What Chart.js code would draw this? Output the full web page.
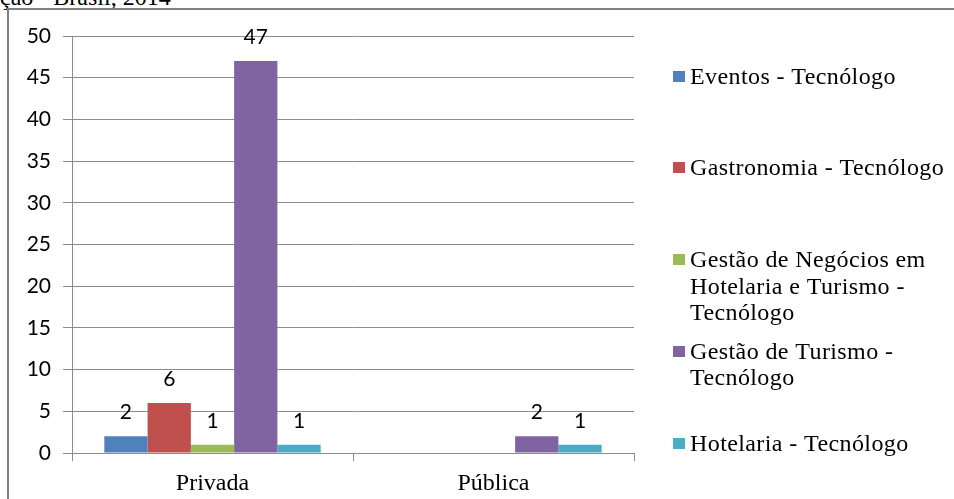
<!DOCTYPE html>
<html>
<head>
<meta charset="utf-8">
<script src="https://cdn.jsdelivr.net/npm/chart.js@4/dist/chart.umd.min.js"></script>
<style>
  html, body { margin: 0; padding: 0; background: #fff; }
  body { width: 954px; height: 499px; position: relative; overflow: hidden; }
  #caption { position: absolute; left: 0; top: -15px; font: 24px "Liberation Serif", "Times New Roman", serif; line-height: 24px; color: #000; white-space: nowrap; }
  #frame { position: absolute; left: 7px; top: 8px; width: 1000px; height: 600px; border: 2px solid #808080; box-sizing: border-box; }
  #wrap { position: absolute; left: 0; top: 0; width: 954px; height: 499px; }
</style>
</head>
<body>
<div id="caption">ção - Brasil, 2014</div>
<div id="frame"></div>
<div id="wrap"><canvas id="c" width="954" height="499"></canvas></div>
<script>
// ---- data ----
const categories = ['Privada', 'Pública'];
const seriesNames = [
  'Eventos - Tecnólogo',
  'Gastronomia - Tecnólogo',
  'Gestão de Negócios em Hotelaria e Turismo - Tecnólogo',
  'Gestão de Turismo - Tecnólogo',
  'Hotelaria - Tecnólogo'
];
const legendLines = [
  ['Eventos - Tecnólogo'],
  ['Gastronomia - Tecnólogo'],
  ['Gestão de Negócios em', 'Hotelaria e Turismo -', 'Tecnólogo'],
  ['Gestão de Turismo -', 'Tecnólogo'],
  ['Hotelaria - Tecnólogo']
];
const eventos = [2, null];
const gastronomia = [6, null];
const gestaoNegocios = [1, null];
const gestaoTurismo = [47, 2];
const hotelaria = [1, 1];
const yMin = 0, yMax = 50, yStep = 5;

const seriesValues = [eventos, gastronomia, gestaoNegocios, gestaoTurismo, hotelaria];
const seriesColors = ['#4F81BD', '#C0504D', '#9BBB59', '#8064A2', '#4BACC6'];

const gridColor = '#8c8c8c';

const dataLabelPlugin = {
  id: 'dataLabels',
  afterDatasetsDraw(chart) {
    const ctx = chart.ctx;
    ctx.save();
    ctx.font = '21px Lato, "Liberation Sans", sans-serif';
    ctx.fillStyle = '#000';
    ctx.textAlign = 'center';
    ctx.textBaseline = 'alphabetic';
    chart.data.datasets.forEach((ds, i) => {
      const meta = chart.getDatasetMeta(i);
      meta.data.forEach((el, j) => {
        const v = ds.data[j];
        if (v === null || v === undefined) return;
        ctx.fillText(String(v), el.x, el.y - 17);
      });
    });
    ctx.restore();
  }
};

const sideLegendPlugin = {
  id: 'sideLegend',
  afterDraw(chart) {
    const ctx = chart.ctx;
    ctx.save();
    ctx.font = '24px "Liberation Serif", "Times New Roman", serif';
    try { ctx.letterSpacing = '0.4px'; } catch (e) {}
    ctx.textAlign = 'left';
    ctx.textBaseline = 'alphabetic';
    const boxX = 673, textX = 690, firstY = 76, step = 91.8, lineH = 26.5;
    chart.data.datasets.forEach((ds, i) => {
      const cy = firstY + i * step;
      ctx.fillStyle = ds.backgroundColor;
      ctx.fillRect(boxX, Math.round(cy - 5.5), 12, 11);
      ctx.fillStyle = '#000';
      legendLines[i].forEach((line, k) => {
        ctx.fillText(line, textX, cy + 7.5 + k * lineH);
      });
    });
    ctx.restore();
  }
};

new Chart(document.getElementById('c'), {
  type: 'bar',
  data: {
    labels: categories,
    datasets: seriesNames.map((name, i) => ({
      label: name,
      data: seriesValues[i],
      backgroundColor: seriesColors[i],
      borderWidth: 0,
      categoryPercentage: 0.77,
      barPercentage: 1.0
    }))
  },
  options: {
    responsive: false,
    animation: false,
    events: [],
    layout: { padding: { left: 8, top: 36, right: 320, bottom: 0 } },
    plugins: {
      legend: { display: false },
      tooltip: { enabled: false },
      title: { display: false }
    },
    scales: {
      x: {
        grid: { display: true, drawOnChartArea: false, drawTicks: true, tickLength: 8, color: gridColor, offset: true },
        border: { display: true, color: gridColor, width: 1 },
        ticks: { font: { family: '"Liberation Serif", "Times New Roman", serif', size: 24 }, color: '#000', padding: 8, maxRotation: 0 },
        afterFit(scale) { scale.height = 46; }
      },
      y: {
        min: yMin, max: yMax,
        ticks: { stepSize: yStep, font: { family: 'Lato, "Liberation Sans", sans-serif', size: 21 }, color: '#000', padding: 12 },
        grid: { color: gridColor, lineWidth: 1, tickLength: 9, drawTicks: true },
        border: { display: true, color: gridColor, width: 1 },
        afterFit(scale) { scale.width = 64; }
      }
    }
  },
  plugins: [dataLabelPlugin, sideLegendPlugin]
});
</script>
</body>
</html>
